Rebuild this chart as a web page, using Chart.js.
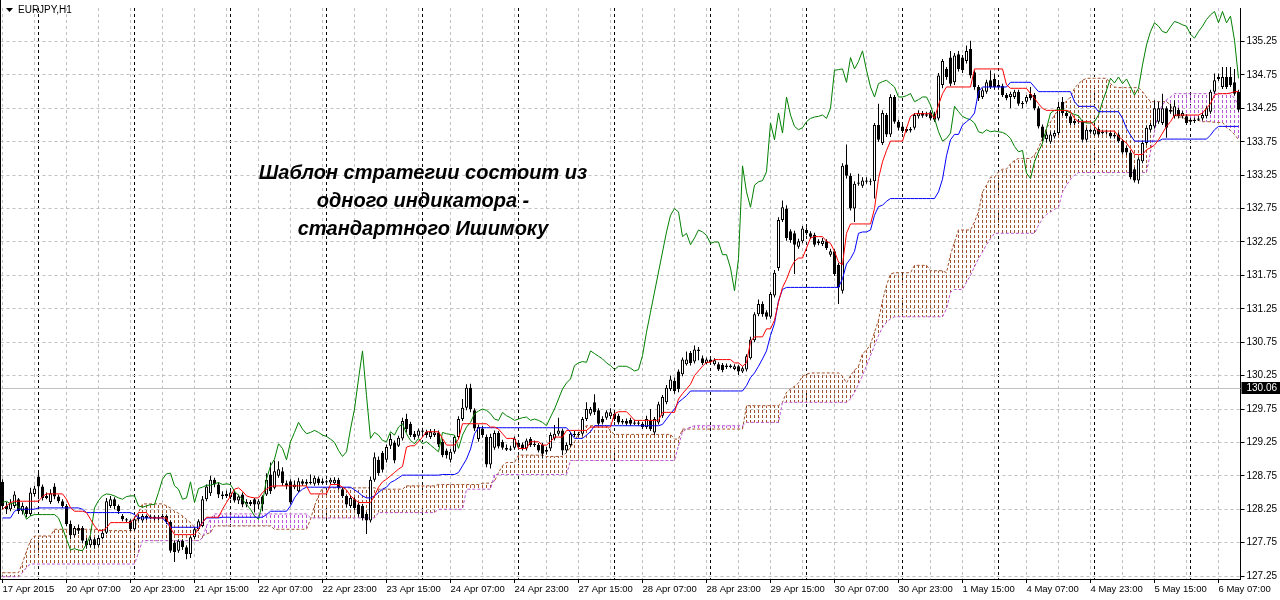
<!DOCTYPE html>
<html><head><meta charset="utf-8">
<script src="https://cdn.jsdelivr.net/npm/chart.js@4.4.0/dist/chart.umd.min.js"></script>
<style>html,body{margin:0;padding:0;background:#fff;}#wrap{width:1280px;height:600px;position:relative;}</style>
</head><body><div id="wrap"><canvas id="c" width="1280" height="600"></canvas></div>
<script>
const SYMBOL_TITLE = 'EURJPY,H1';
const NOTE_LINES = ['Шаблон стратегии состоит из', 'одного индикатора -', 'стандартного Ишимоку'];
const TICK_LABELS = ['17 Apr 2015','20 Apr 07:00','20 Apr 23:00','21 Apr 15:00','22 Apr 07:00','22 Apr 23:00','23 Apr 15:00','24 Apr 07:00','24 Apr 23:00','27 Apr 15:00','28 Apr 07:00','28 Apr 23:00','29 Apr 15:00','30 Apr 07:00','30 Apr 23:00','1 May 15:00','4 May 07:00','4 May 23:00','5 May 15:00','6 May 07:00'];
const LABEL_EVERY = 16;
const DAY_START_BARS = [9,33,57,81,105,129,153,177,201,225,249,273,297];
const Y_TICKS = [127.25,127.75,128.25,128.75,129.25,129.75,130.25,130.75,131.25,131.75,132.25,132.75,133.25,133.75,134.25,134.75,135.25];
const Y_MIN = 127.206, Y_MAX = 135.752;
const BID = 130.06;

const OPEN = [
128.66,128.30,128.25,128.30,128.40,128.22,128.28,128.18,128.48,128.74,
128.59,128.42,128.36,128.59,128.44,128.37,128.30,128.03,127.86,127.97,
127.97,127.78,127.71,127.80,127.71,127.82,127.90,128.30,128.40,128.30,
128.15,128.10,128.08,127.95,128.10,128.08,128.15,128.12,128.14,128.11,
128.13,128.15,128.06,127.75,127.63,127.78,127.68,127.58,127.83,127.95,
128.00,128.40,128.49,128.69,128.62,128.47,128.45,128.43,128.50,128.38,
128.47,128.32,128.36,128.40,128.32,128.44,128.47,128.77,128.57,128.75,
128.82,128.64,128.67,128.58,128.52,128.67,128.63,128.66,128.63,128.71,
128.64,128.67,128.65,128.64,128.69,128.55,128.45,128.30,128.40,128.32,
128.30,128.18,128.08,128.69,128.99,129.09,128.99,129.20,129.25,129.20,
129.31,129.60,129.53,129.38,129.35,129.43,129.41,129.33,129.36,129.40,
129.26,129.13,128.99,129.11,129.33,129.60,129.77,130.07,129.73,129.30,
129.46,129.33,128.92,129.17,129.39,129.26,129.17,129.14,129.17,129.24,
129.22,129.16,129.30,129.21,129.21,129.21,129.11,129.16,129.31,129.38,
129.43,129.13,129.21,129.38,129.36,129.38,129.60,129.68,129.85,129.73,
129.60,129.62,129.64,129.68,129.65,129.55,129.57,129.59,129.53,129.55,
129.53,129.48,129.58,129.40,129.55,129.65,129.85,130.05,130.17,130.31,
130.27,130.42,130.59,130.46,130.64,130.51,130.44,130.49,130.42,130.42,
130.41,130.38,130.40,130.35,130.39,130.31,130.34,130.51,130.78,131.17,
131.32,131.20,131.13,131.45,131.86,132.58,132.75,132.41,132.38,132.18,
132.26,132.43,132.38,132.36,132.26,132.22,132.26,132.06,132.11,131.91,
131.52,133.41,133.24,132.75,133.12,133.09,133.17,133.15,133.16,134.00,
133.73,134.15,133.86,134.42,134.05,133.98,133.91,133.94,133.96,134.13,
134.18,134.14,134.19,134.17,134.10,134.60,134.84,135.01,134.64,135.06,
135.01,134.96,135.14,134.79,134.57,134.42,134.50,134.67,134.69,134.57,
134.59,134.45,134.42,134.42,134.50,134.33,134.35,134.47,134.45,134.25,
133.98,133.79,133.75,133.83,133.88,134.35,134.18,134.13,134.03,134.06,
134.05,133.78,133.93,133.86,133.94,133.88,133.90,133.88,133.83,133.86,
133.76,133.66,133.59,133.34,133.17,133.46,133.73,133.93,133.98,134.05,
134.03,134.25,134.23,134.13,134.23,134.13,134.13,134.05,134.08,134.08,
134.10,134.13,134.20,134.50,134.69,134.57,134.72,134.72,134.64,134.50];

const HIGH = [
128.70,128.36,128.40,128.52,128.42,128.35,128.30,128.57,128.60,128.80,
128.62,128.50,128.55,128.64,128.47,128.40,128.33,128.08,128.00,128.02,
128.00,127.82,127.84,127.83,127.86,127.95,128.42,128.45,128.43,128.32,
128.18,128.12,128.10,128.14,128.17,128.18,128.17,128.17,128.16,128.16,
128.18,128.17,128.08,127.78,127.80,127.80,127.71,127.85,127.98,128.10,
128.45,128.62,128.75,128.72,128.65,128.52,128.53,128.55,128.53,128.47,
128.50,128.40,128.39,128.42,128.40,128.46,128.79,128.95,128.98,128.97,
128.88,128.68,128.70,128.68,128.72,128.70,128.70,128.77,128.75,128.74,
128.71,128.69,128.72,128.73,128.72,128.58,128.47,128.46,128.43,128.35,
128.33,128.21,128.74,129.10,129.04,129.12,129.22,129.38,129.28,129.35,
129.62,129.68,129.56,129.42,129.46,129.47,129.44,129.45,129.45,129.43,
129.30,129.16,129.15,129.36,129.64,129.90,130.12,130.13,129.76,129.52,
129.50,129.37,129.38,129.43,129.42,129.29,129.22,129.20,129.34,129.27,
129.25,129.31,129.33,129.28,129.24,129.24,129.18,129.40,129.51,129.62,
129.46,129.25,129.41,129.42,129.41,129.63,129.85,129.78,129.97,129.76,
129.64,129.73,129.76,129.72,129.68,129.60,129.61,129.62,129.59,129.58,
129.56,129.65,129.75,129.63,129.86,129.96,130.11,130.25,130.22,130.34,
130.52,130.61,130.62,130.70,130.68,130.55,130.52,130.52,130.51,130.45,
130.44,130.43,130.42,130.42,130.41,130.39,130.57,130.83,131.20,131.39,
131.36,131.23,131.50,131.83,132.62,132.87,132.80,132.44,132.42,132.30,
132.49,132.47,132.41,132.39,132.29,132.31,132.29,132.15,132.14,131.94,
133.43,133.71,133.28,133.16,133.27,133.22,133.22,133.20,134.03,134.32,
134.22,134.18,134.46,134.45,134.08,134.01,133.97,133.97,134.18,134.22,
134.21,134.20,134.22,134.20,134.78,134.99,134.87,135.11,135.08,135.11,
135.05,135.19,135.26,134.82,134.60,134.55,134.68,134.82,134.77,134.64,
134.62,134.48,134.50,134.53,134.53,134.36,134.45,134.57,134.48,134.28,
134.01,133.90,133.90,133.92,134.35,134.42,134.22,134.16,134.09,134.09,
134.08,133.96,133.95,133.96,133.97,133.93,133.93,133.91,133.88,133.89,
133.79,133.69,133.62,133.37,133.52,133.76,133.99,134.03,134.37,134.35,
134.47,134.28,134.32,134.37,134.26,134.21,134.16,134.11,134.11,134.13,
134.18,134.28,134.53,134.77,134.77,134.87,134.87,134.87,134.84,134.53];

const LOW = [
128.25,128.18,128.22,128.27,128.18,128.17,128.13,128.15,128.44,128.40,
128.38,128.40,128.33,128.40,128.34,128.27,128.00,127.80,127.83,127.88,
127.74,127.66,127.68,127.66,127.69,127.80,127.88,128.27,128.25,128.18,
128.07,128.05,127.92,127.92,128.07,128.05,128.09,128.10,128.08,128.09,
128.10,128.03,127.60,127.46,127.60,127.64,127.50,127.52,127.80,127.93,
127.98,128.37,128.45,128.58,128.42,128.40,128.42,128.40,128.35,128.33,
128.28,128.28,128.30,128.20,128.25,128.22,128.45,128.48,128.55,128.72,
128.60,128.55,128.32,128.55,128.50,128.60,128.60,128.62,128.60,128.61,
128.62,128.63,128.62,128.62,128.54,128.42,128.28,128.27,128.24,128.14,
128.08,127.88,128.05,128.66,128.75,128.80,128.95,129.15,128.94,129.18,
129.28,129.40,129.33,129.29,129.32,129.38,129.32,129.30,129.33,129.18,
129.03,129.01,128.95,129.08,129.30,129.57,129.73,129.70,129.42,129.26,
129.32,128.88,128.86,129.14,129.16,129.14,129.12,129.12,129.14,129.14,
129.13,129.13,129.18,129.18,129.10,129.01,129.07,129.12,129.28,129.35,
129.06,129.10,129.18,129.33,129.34,129.35,129.57,129.65,129.66,129.50,
129.52,129.59,129.60,129.57,129.52,129.52,129.50,129.50,129.51,129.50,
129.45,129.45,129.42,129.36,129.52,129.62,129.82,130.02,129.98,130.00,
130.24,130.40,130.40,130.43,130.48,130.41,130.42,130.42,130.40,130.32,
130.30,130.35,130.36,130.33,130.26,130.29,130.31,130.49,130.75,131.14,
131.13,131.09,131.10,131.42,131.82,132.55,132.27,132.24,131.77,132.15,
132.23,132.35,132.30,132.18,132.20,132.19,132.13,132.03,131.74,131.32,
131.48,133.20,132.72,132.55,133.09,133.06,133.12,133.10,132.90,133.75,
133.70,133.82,133.82,134.02,133.92,133.88,133.89,133.89,133.93,134.10,
134.11,134.12,134.07,134.05,134.07,134.55,134.68,134.58,134.60,134.80,
134.78,134.92,134.70,134.53,134.36,134.39,134.47,134.54,134.53,134.53,
134.42,134.37,134.25,134.39,134.29,134.25,134.32,134.37,134.22,133.95,
133.76,133.74,133.72,133.80,133.85,134.14,134.10,134.00,134.00,134.02,
133.75,133.75,133.87,133.84,133.83,133.86,133.86,133.80,133.80,133.73,
133.56,133.55,133.19,133.14,133.12,133.43,133.70,133.90,133.95,134.02,
134.00,133.81,134.17,134.10,134.10,134.10,134.00,134.03,134.03,134.06,
134.07,134.10,134.17,134.47,134.66,134.54,134.54,134.57,134.44,134.20];

const CLOSE = [
128.30,128.25,128.35,128.47,128.22,128.30,128.18,128.50,128.56,128.59,
128.42,128.45,128.49,128.44,128.37,128.30,128.03,127.86,127.97,127.93,
127.78,127.71,127.80,127.71,127.82,127.90,128.37,128.40,128.30,128.22,
128.10,128.08,127.95,128.10,128.13,128.15,128.12,128.14,128.11,128.13,
128.15,128.06,127.63,127.61,127.78,127.68,127.58,127.83,127.95,128.07,
128.40,128.59,128.69,128.62,128.47,128.45,128.48,128.50,128.38,128.44,
128.32,128.36,128.33,128.32,128.37,128.32,128.69,128.52,128.82,128.85,
128.64,128.60,128.35,128.62,128.67,128.63,128.66,128.64,128.72,128.64,
128.67,128.65,128.69,128.69,128.57,128.45,128.32,128.42,128.27,128.18,
128.12,128.08,128.69,129.03,128.79,128.84,129.18,129.30,128.98,129.32,
129.57,129.45,129.36,129.33,129.43,129.41,129.36,129.41,129.40,129.22,
129.06,129.06,129.11,129.33,129.60,129.77,130.07,129.75,129.46,129.48,
129.36,128.92,129.33,129.39,129.19,129.17,129.14,129.16,129.31,129.18,
129.16,129.28,129.21,129.23,129.13,129.08,129.14,129.36,129.38,129.43,
129.13,129.21,129.38,129.36,129.38,129.60,129.75,129.75,129.70,129.53,
129.55,129.70,129.70,129.60,129.55,129.57,129.53,129.53,129.55,129.53,
129.48,129.60,129.45,129.60,129.82,129.93,130.07,130.19,130.02,130.05,
130.49,130.49,130.44,130.64,130.62,130.44,130.49,130.45,130.48,130.34,
130.33,130.40,130.38,130.39,130.31,130.36,130.54,130.79,131.17,131.32,
131.17,131.13,131.47,131.79,132.58,132.77,132.31,132.28,132.21,132.26,
132.45,132.38,132.33,132.21,132.23,132.27,132.16,132.11,131.77,131.57,
133.39,133.24,132.75,133.12,133.14,133.17,133.15,133.16,134.00,133.78,
134.18,133.86,134.42,134.05,133.96,133.91,133.94,133.92,134.15,134.18,
134.14,134.16,134.10,134.08,134.74,134.96,134.72,134.62,135.04,134.84,
134.82,135.11,134.74,134.57,134.40,134.52,134.64,134.57,134.57,134.60,
134.45,134.40,134.47,134.50,134.32,134.31,134.42,134.40,134.25,133.98,
133.81,133.86,133.86,133.88,134.27,134.18,134.13,134.03,134.06,134.05,
133.78,133.93,133.90,133.93,133.86,133.90,133.89,133.83,133.85,133.76,
133.59,133.59,133.22,133.17,133.49,133.73,133.96,134.00,134.25,134.25,
134.25,133.96,134.20,134.28,134.13,134.18,134.03,134.08,134.06,134.10,
134.15,134.25,134.50,134.67,134.72,134.72,134.57,134.60,134.47,134.23];

const TENKAN = [
128.25,128.30,128.35,128.37,128.37,128.37,128.37,128.37,128.37,128.37,
128.44,128.48,128.48,128.48,128.48,128.48,128.40,128.27,128.22,128.22,
128.22,128.20,128.10,128.00,127.93,127.93,127.97,128.05,128.05,128.05,
128.05,128.05,128.05,128.12,128.20,128.20,128.20,128.12,128.12,128.12,
128.12,128.12,127.97,127.87,127.87,127.87,127.87,127.87,127.87,127.95,
128.05,128.13,128.13,128.13,128.13,128.25,128.35,128.45,128.55,128.57,
128.52,128.45,128.43,128.42,128.42,128.50,128.55,128.59,128.60,128.60,
128.60,128.60,128.60,128.60,128.60,128.60,128.60,128.48,128.48,128.48,
128.48,128.48,128.62,128.62,128.62,128.58,128.54,128.45,128.40,128.35,
128.35,128.35,128.35,128.45,128.58,128.66,128.70,128.75,128.80,128.85,
128.89,129.18,129.20,129.20,129.26,129.33,129.41,129.41,129.41,129.41,
129.31,129.21,129.21,129.21,129.30,129.53,129.53,129.53,129.53,129.53,
129.53,129.53,129.48,129.48,129.45,129.38,129.31,129.31,129.31,129.16,
129.16,129.16,129.26,129.26,129.26,129.21,129.21,129.26,129.33,129.33,
129.33,129.43,129.43,129.43,129.43,129.43,129.43,129.48,129.48,129.48,
129.48,129.48,129.48,129.68,129.71,129.71,129.71,129.65,129.58,129.58,
129.58,129.58,129.58,129.58,129.58,129.70,129.70,129.70,129.70,129.90,
129.98,130.05,130.12,130.25,130.32,130.39,130.45,130.45,130.49,130.49,
130.49,130.49,130.49,130.44,130.44,130.39,130.44,130.76,130.83,130.83,
130.83,130.95,130.95,131.08,131.35,131.57,131.69,131.85,131.96,132.01,
132.01,132.16,132.31,132.33,132.33,132.33,132.26,132.23,132.11,131.95,
131.91,132.38,132.52,132.52,132.52,132.52,132.52,132.52,132.75,133.20,
133.45,133.62,133.76,133.76,133.76,133.76,133.95,134.13,134.17,134.17,
134.17,134.17,134.17,134.10,134.30,134.47,134.57,134.57,134.57,134.57,
134.57,134.57,134.57,134.84,134.84,134.84,134.84,134.84,134.84,134.84,
134.84,134.60,134.55,134.55,134.55,134.55,134.55,134.47,134.40,134.32,
134.25,134.22,134.22,134.22,134.22,134.22,134.22,134.20,134.10,134.05,
134.05,134.05,134.05,133.98,133.91,133.91,133.91,133.91,133.91,133.83,
133.78,133.73,133.65,133.56,133.56,133.56,133.63,133.66,133.70,133.78,
133.88,133.98,134.05,134.15,134.15,134.15,134.15,134.15,134.15,134.15,
134.18,134.25,134.32,134.45,134.47,134.47,134.47,134.48,134.50,134.50];

const KIJUN = [
128.12,128.12,128.12,128.22,128.25,128.25,128.25,128.25,128.25,128.27,
128.27,128.27,128.27,128.27,128.27,128.27,128.27,128.27,128.27,128.27,
128.25,128.20,128.20,128.20,128.20,128.20,128.20,128.20,128.20,128.20,
128.20,128.20,128.20,128.17,128.12,128.12,128.12,128.12,128.12,128.12,
128.12,128.05,127.98,127.98,127.98,127.98,127.98,127.98,127.98,127.98,
128.05,128.12,128.12,128.12,128.12,128.13,128.13,128.13,128.13,128.13,
128.13,128.13,128.13,128.13,128.13,128.13,128.17,128.22,128.22,128.22,
128.22,128.22,128.30,128.42,128.50,128.55,128.58,128.58,128.58,128.58,
128.58,128.58,128.58,128.58,128.58,128.58,128.58,128.58,128.54,128.50,
128.45,128.42,128.42,128.45,128.50,128.55,128.58,128.65,128.68,128.72,
128.76,128.76,128.76,128.76,128.76,128.76,128.76,128.76,128.76,128.76,
128.77,128.77,128.77,128.77,128.80,128.90,129.00,129.15,129.38,129.47,
129.47,129.47,129.47,129.47,129.47,129.47,129.47,129.47,129.47,129.47,
129.47,129.47,129.47,129.47,129.47,129.47,129.47,129.47,129.47,129.47,
129.47,129.47,129.40,129.31,129.31,129.31,129.36,129.41,129.50,129.50,
129.50,129.50,129.50,129.50,129.50,129.50,129.50,129.50,129.50,129.50,
129.50,129.50,129.50,129.50,129.50,129.52,129.60,129.68,129.75,129.85,
129.90,129.95,130.02,130.02,130.02,130.02,130.02,130.02,130.02,130.02,
130.02,130.02,130.02,130.02,130.02,130.02,130.10,130.22,130.29,130.39,
130.50,130.62,130.85,131.03,131.37,131.54,131.57,131.57,131.57,131.57,
131.57,131.57,131.57,131.57,131.57,131.57,131.57,131.57,131.57,131.57,
131.70,131.92,132.00,132.11,132.38,132.40,132.40,132.43,132.65,132.78,
132.80,132.86,132.90,132.90,132.90,132.90,132.90,132.90,132.90,132.90,
132.90,132.90,132.90,132.90,133.00,133.19,133.54,133.78,133.86,133.86,
134.00,134.05,134.10,134.18,134.50,134.57,134.57,134.57,134.57,134.57,
134.57,134.57,134.64,134.64,134.64,134.64,134.64,134.64,134.57,134.50,
134.50,134.50,134.50,134.50,134.50,134.50,134.50,134.50,134.35,134.28,
134.28,134.28,134.28,134.28,134.20,134.20,134.20,134.20,134.20,134.20,
134.10,133.95,133.85,133.76,133.76,133.76,133.76,133.76,133.76,133.76,
133.79,133.79,133.79,133.79,133.79,133.79,133.79,133.79,133.79,133.79,
133.79,133.79,133.85,133.93,133.98,133.98,133.98,133.98,133.98,133.98];

const CHIKOU = [
128.35,128.37,128.33,128.35,128.28,128.25,128.10,128.15,128.17,128.17,
128.17,128.17,128.17,128.17,128.12,127.97,127.80,127.64,127.66,127.64,
127.63,127.73,127.87,128.27,128.38,128.45,128.48,128.47,128.45,128.42,
128.40,128.44,128.45,128.45,128.30,128.28,128.30,128.32,128.32,128.50,
128.70,128.78,128.79,128.60,128.55,128.40,128.42,128.66,128.35,128.56,
128.58,128.61,128.61,128.63,128.65,128.62,128.63,128.62,128.52,128.46,
128.40,128.32,128.25,128.15,128.10,128.35,128.70,128.90,129.00,129.23,
129.16,128.99,129.26,129.40,129.55,129.45,129.38,129.40,129.43,129.40,
129.36,129.34,129.30,129.25,129.13,129.04,129.11,129.45,129.75,130.20,
130.62,129.95,129.31,129.40,129.36,129.28,129.26,129.41,129.36,129.48,
129.53,129.38,129.28,129.23,129.31,129.23,129.26,129.21,129.16,129.11,
129.40,129.38,129.37,129.36,129.16,129.36,129.48,129.55,129.68,129.72,
129.75,129.73,129.68,129.60,129.58,129.70,129.65,129.62,129.58,129.60,
129.62,129.63,129.58,129.60,129.58,129.55,129.50,129.63,129.75,129.90,
130.05,130.14,130.20,130.40,130.44,130.46,130.45,130.62,130.58,130.54,
130.50,130.44,130.40,130.34,130.39,130.39,130.39,130.36,130.32,130.34,
130.55,130.90,131.20,131.50,131.80,132.10,132.40,132.65,132.75,132.70,
132.33,132.38,132.21,132.31,132.43,132.40,132.35,132.23,132.25,132.25,
132.06,132.06,131.86,131.52,132.00,133.39,133.00,132.77,133.10,133.15,
133.17,133.30,134.03,133.78,134.18,133.88,134.42,134.15,133.98,133.93,
133.96,134.05,134.10,134.12,134.13,134.15,134.10,134.25,134.82,134.83,
134.84,134.64,135.01,134.84,134.95,135.11,134.82,134.57,134.42,134.62,
134.65,134.67,134.62,134.57,134.42,134.42,134.44,134.47,134.35,134.38,
134.42,134.42,134.30,134.10,133.90,133.76,133.80,133.88,134.28,134.20,
134.13,134.10,134.08,134.03,133.90,133.88,133.93,133.90,133.91,133.90,
133.89,133.86,133.80,133.68,133.60,133.62,133.28,133.20,133.45,133.60,
133.73,133.95,134.18,134.22,134.23,134.23,134.21,134.18,134.16,134.14,
134.05,134.03,134.03,134.05,134.15,134.35,134.52,134.70,134.63,134.72,
134.62,134.69,134.57,134.45,134.55,134.90,135.20,135.40,135.53,135.48,
135.40,135.38,135.47,135.55,135.53,135.50,135.48,135.36,135.30,135.40,
135.48,135.58,135.65,135.70,135.53,135.70,135.53,135.63,135.27,134.70];

const SPAN_A = [
127.30,127.30,127.30,127.30,127.30,127.45,127.62,127.78,127.85,127.85,
127.85,127.85,127.85,127.95,127.95,127.95,127.95,127.95,127.95,127.95,
127.95,127.95,127.95,127.95,127.95,127.93,127.93,127.93,127.93,127.93,
127.93,127.93,127.93,127.93,128.20,128.33,128.33,128.33,128.33,128.33,
128.33,128.30,128.27,128.22,128.19,128.15,128.10,128.05,127.98,127.90,
127.85,127.88,127.90,128.00,128.00,128.00,128.00,128.00,128.00,128.00,
128.00,128.00,128.00,128.00,128.00,128.00,128.00,128.00,127.95,127.95,
127.95,127.95,127.95,127.95,127.95,127.95,127.95,128.10,128.30,128.45,
128.57,128.57,128.57,128.57,128.57,128.57,128.57,128.57,128.57,128.57,
128.57,128.57,128.57,128.57,128.55,128.55,128.55,128.55,128.55,128.55,
128.55,128.60,128.60,128.60,128.60,128.60,128.60,128.60,128.60,128.62,
128.62,128.62,128.62,128.62,128.62,128.62,128.62,128.62,128.62,128.62,
128.64,128.64,128.64,128.67,128.80,128.90,128.95,128.95,128.95,129.06,
129.06,129.06,129.06,129.06,129.06,129.06,129.04,129.04,129.04,129.04,
129.04,129.10,129.18,129.26,129.38,129.46,129.50,129.50,129.50,129.50,
129.50,129.50,129.42,129.37,129.37,129.37,129.37,129.37,129.37,129.37,
129.37,129.37,129.37,129.37,129.37,129.37,129.37,129.37,129.30,129.30,
129.45,129.45,129.45,129.45,129.45,129.45,129.45,129.45,129.45,129.45,
129.45,129.45,129.45,129.45,129.45,129.45,129.80,129.80,129.80,129.80,
129.80,129.80,129.80,129.80,129.80,129.85,130.00,130.05,130.09,130.14,
130.24,130.27,130.29,130.29,130.29,130.29,130.29,130.29,130.29,130.29,
130.24,130.14,130.25,130.33,130.39,130.58,130.63,130.72,130.90,131.08,
131.37,131.60,131.77,131.79,131.79,131.79,131.79,131.79,131.90,131.90,
131.90,131.90,131.82,131.82,131.82,131.82,131.79,132.06,132.25,132.43,
132.43,132.43,132.43,132.55,132.70,133.00,133.10,133.22,133.22,133.30,
133.34,133.34,133.42,133.47,133.50,133.50,133.50,133.50,133.55,133.66,
133.80,133.95,134.05,134.15,134.23,134.30,134.36,134.42,134.55,134.62,
134.67,134.70,134.70,134.70,134.70,134.70,134.70,134.62,134.57,134.56,
134.56,134.56,134.56,134.56,134.56,134.50,134.42,134.35,134.35,134.35,
134.35,134.35,134.30,134.15,134.12,134.12,134.07,134.07,134.07,134.07,
134.05,134.05,134.05,134.04,134.04,134.04,133.96,133.92,133.86,133.78];

const SPAN_B = [
127.24,127.24,127.24,127.24,127.24,127.30,127.38,127.43,127.43,127.43,
127.43,127.43,127.43,127.43,127.43,127.43,127.43,127.43,127.43,127.43,
127.43,127.43,127.43,127.43,127.43,127.43,127.43,127.43,127.43,127.43,
127.43,127.43,127.43,127.43,127.60,127.78,127.78,127.78,127.78,127.78,
127.78,127.78,127.78,127.78,127.78,127.78,127.78,127.78,127.78,127.78,
127.82,128.00,128.10,128.18,128.18,128.18,128.18,128.18,128.18,128.18,
128.18,128.18,128.18,128.18,128.18,128.18,128.18,128.18,128.18,128.18,
128.18,128.18,128.18,128.18,128.18,128.18,128.18,128.12,128.12,128.12,
128.12,128.12,128.12,128.12,128.12,128.12,128.12,128.12,128.12,128.12,
128.12,128.12,128.12,128.12,128.20,128.20,128.20,128.20,128.20,128.20,
128.20,128.20,128.20,128.20,128.20,128.20,128.20,128.20,128.20,128.25,
128.25,128.25,128.25,128.25,128.25,128.25,128.55,128.55,128.55,128.55,
128.55,128.55,128.55,128.77,128.77,128.77,128.77,128.77,128.77,128.77,
128.77,128.77,128.77,128.77,128.77,128.77,128.77,128.77,128.77,128.77,
128.77,128.77,128.98,128.98,128.98,128.98,128.98,128.98,128.98,128.98,
128.98,128.98,128.98,128.98,128.98,128.98,128.98,128.98,128.98,128.98,
128.98,128.98,128.98,128.98,128.98,128.98,128.98,128.98,128.98,129.20,
129.41,129.45,129.48,129.50,129.50,129.50,129.50,129.50,129.50,129.50,
129.50,129.50,129.50,129.50,129.50,129.50,129.55,129.55,129.55,129.55,
129.55,129.55,129.55,129.55,129.55,129.85,129.85,129.85,129.85,129.85,
129.85,129.85,129.85,129.85,129.85,129.85,129.85,129.85,129.85,129.85,
129.85,129.85,129.90,130.00,130.12,130.25,130.40,130.55,130.70,130.85,
130.97,131.05,131.10,131.13,131.13,131.13,131.13,131.13,131.13,131.13,
131.13,131.13,131.13,131.13,131.13,131.13,131.25,131.50,131.54,131.54,
131.54,131.65,131.75,131.88,132.00,132.10,132.21,132.30,132.38,132.38,
132.38,132.38,132.38,132.38,132.38,132.38,132.38,132.38,132.38,132.50,
132.60,132.66,132.70,132.74,132.77,133.00,133.10,133.19,133.25,133.29,
133.29,133.29,133.29,133.29,133.29,133.29,133.29,133.29,133.29,133.29,
133.29,133.29,133.29,133.29,133.29,133.29,133.29,133.60,133.90,134.20,
134.30,134.38,134.42,134.47,134.47,134.47,134.47,134.47,134.47,134.47,
134.47,134.47,134.47,134.47,134.47,134.47,134.47,134.47,134.40,134.30];

const COLORS = {up:'#a0522d', down:'#ba55d3', tenkan:'#ff0000', kijun:'#0000ff', chikou:'#008000', grid:'#c0c0c0'};
const FONT = '"Liberation Sans", Arial, sans-serif';

function dashPattern(color){
  const c = document.createElement('canvas'); c.width = 1; c.height = 5;
  const g = c.getContext('2d'); g.fillStyle = color; g.fillRect(0,0,1,3);
  return g.createPattern(c, 'repeat');
}

const labels = CLOSE.map((_, i) => String(i));
const daySet = new Set(DAY_START_BARS);

const cloudUp = SPAN_A.map((a, i) => a >= SPAN_B[i] ? [SPAN_B[i], a] : null);
const cloudDown = SPAN_A.map((a, i) => a < SPAN_B[i] ? [a, SPAN_B[i]] : null);
const wicks = LOW.map((l, i) => [l, HIGH[i]]);
const bodies = OPEN.map((o, i) => [o, CLOSE[i]]);
const bodyColors = OPEN.map((o, i) => CLOSE[i] >= o ? '#ffffff' : '#000000');

const lineDs = (label, data, color, order, dash) => ({
  type:'line', label, data, borderColor:color, borderWidth:1, pointRadius:0, tension:0,
  borderDash: dash || [], fill:false, order, spanGaps:true
});

const overlayPlugin = {
  id:'overlay',
  beforeDatasetsDraw(chart){
    const {ctx, chartArea:a, scales:{y}} = chart;
    const py = Math.round(y.getPixelForValue(BID)) + 0.5;
    ctx.save(); ctx.strokeStyle = COLORS.grid; ctx.lineWidth = 1;
    ctx.beginPath(); ctx.moveTo(a.left, py); ctx.lineTo(a.right, py); ctx.stroke(); ctx.restore();
  },
  afterDraw(chart){
    const {ctx, chartArea:a, scales:{y}} = chart;
    ctx.save();
    ctx.strokeStyle = '#000'; ctx.lineWidth = 1;
    ctx.beginPath(); ctx.moveTo(0.5, 0); ctx.lineTo(0.5, a.bottom); ctx.stroke();
    const py = Math.round(y.getPixelForValue(BID));
    ctx.fillStyle = '#000'; ctx.fillRect(a.right + 1, py - 6, 1280 - a.right - 1, 12);
    ctx.fillStyle = '#fff'; ctx.font = '10px ' + FONT; ctx.textBaseline = 'middle'; ctx.textAlign = 'left';
    ctx.fillText(BID.toFixed(2), a.right + 6, py + 0.5);
    ctx.fillStyle = '#000';
    ctx.beginPath(); ctx.moveTo(6, 8); ctx.lineTo(13, 8); ctx.lineTo(9.5, 12); ctx.closePath(); ctx.fill();
    ctx.font = '10px ' + FONT; ctx.textBaseline = 'middle';
    ctx.fillText(SYMBOL_TITLE, 18, 10);
    ctx.font = 'italic bold 20px ' + FONT; ctx.textAlign = 'center';
    NOTE_LINES.forEach((t, k) => ctx.fillText(t, 423, 173 + k * 28));
    ctx.restore();
  }
};

new Chart(document.getElementById('c'), {
  type:'bar',
  data:{
    labels,
    datasets:[
      {label:'cloudUp', data:cloudUp, backgroundColor:dashPattern(COLORS.up), barThickness:1, grouped:false, order:20, borderWidth:0, inflateAmount:0},
      {label:'cloudDown', data:cloudDown, backgroundColor:dashPattern(COLORS.down), barThickness:1, grouped:false, order:19, borderWidth:0, inflateAmount:0},
      lineDs('SpanA', SPAN_A, COLORS.up, 18, [3,2]),
      lineDs('SpanB', SPAN_B, COLORS.down, 17, [3,2]),
      {label:'wick', data:wicks, backgroundColor:'#000', barThickness:1, grouped:false, order:12, borderWidth:0, inflateAmount:0},
      {label:'body', data:bodies, backgroundColor:bodyColors, borderColor:'#000', borderWidth:1, borderSkipped:false, barThickness:3, minBarLength:1, grouped:false, order:11, inflateAmount:0},
      lineDs('Chikou', CHIKOU, COLORS.chikou, 4),
      lineDs('Kijun', KIJUN, COLORS.kijun, 3),
      lineDs('Tenkan', TENKAN, COLORS.tenkan, 2)
    ]
  },
  options:{
    responsive:false, animation:false, devicePixelRatio:1, events:[],
    layout:{padding:{left:0.5, right:0, top:0, bottom:0}},
    plugins:{legend:{display:false}, tooltip:{enabled:false}},
    scales:{
      x:{
        type:'category', offset:true,
        grid:{offset:false, lineWidth:1, drawTicks:true, tickLength:4, tickBorderDash:[],
          color:(c)=> daySet.has(c.index) ? '#000000' : (c.index % 8 === 0 ? COLORS.grid : 'rgba(0,0,0,0)'),
          tickColor:(c)=> c.index % LABEL_EVERY === 0 ? '#000000' : 'rgba(0,0,0,0)'},
        border:{display:true, color:'#000', width:1, dash:[3,3]},
        ticks:{autoSkip:false, maxRotation:0, minRotation:0, align:'start', padding:1, color:'#000',
          font:{family:FONT, size:9.5},
          callback:(v, i)=> i % LABEL_EVERY === 0 ? (TICK_LABELS[i / LABEL_EVERY] || '') : ''},
        afterFit:(s)=>{ s.height = 21; }
      },
      y:{
        type:'linear', position:'right', min:Y_MIN, max:Y_MAX,
        afterBuildTicks:(s)=>{ s.ticks = Y_TICKS.map(v => ({value:v})); },
        grid:{color:COLORS.grid, lineWidth:1, tickColor:'#000', tickLength:4, tickBorderDash:[]},
        border:{display:true, color:'#000', width:1, dash:[3,3]},
        ticks:{color:'#000', padding:2, font:{family:FONT, size:10}, callback:(v)=> Number(v).toFixed(2)},
        afterFit:(s)=>{ s.width = 39.5; }
      }
    }
  },
  plugins:[overlayPlugin]
});
</script>
</body></html>
